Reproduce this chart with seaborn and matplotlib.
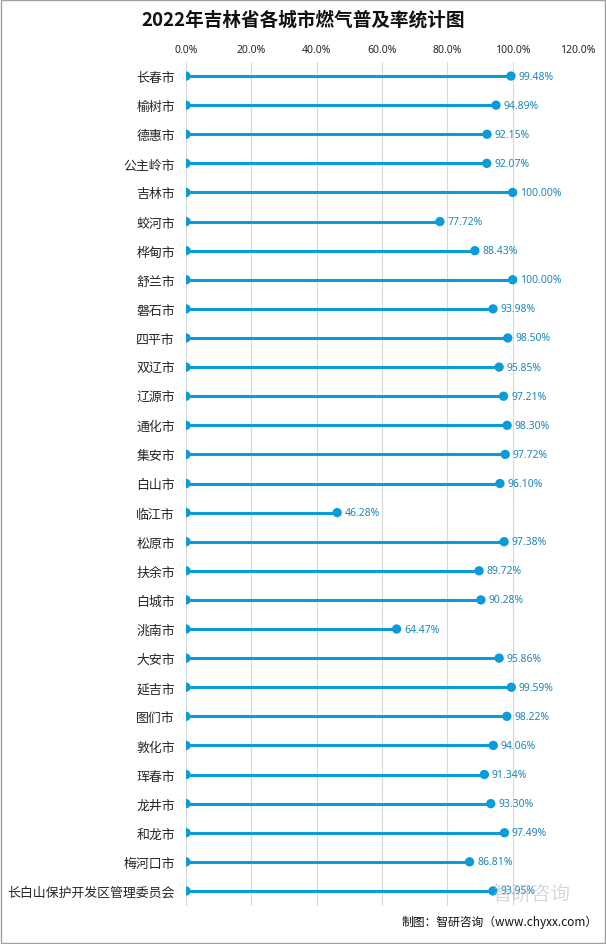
import matplotlib
matplotlib.use("Agg")
import matplotlib.pyplot as plt
import seaborn as sns
import pandas as pd
from matplotlib.patches import Rectangle

cities = ["长春市", "榆树市", "德惠市", "公主岭市", "吉林市", "蛟河市", "桦甸市", "舒兰市", "磐石市",
          "四平市", "双辽市", "辽源市", "通化市", "集安市", "白山市", "临江市", "松原市", "扶余市",
          "白城市", "洮南市", "大安市", "延吉市", "图们市", "敦化市", "珲春市", "龙井市", "和龙市",
          "梅河口市", "长白山保护开发区管理委员会"]
rates = [99.48, 94.89, 92.15, 92.07, 100.00, 77.72, 88.43, 100.00, 93.98,
         98.50, 95.85, 97.21, 98.30, 97.72, 96.10, 46.28, 97.38, 89.72,
         90.28, 64.47, 95.86, 99.59, 98.22, 94.06, 91.34, 93.30, 97.49,
         86.81, 93.95]
xticks = [0, 20, 40, 60, 80, 100, 120]
xtick_labels = ["0.0%", "20.0%", "40.0%", "60.0%", "80.0%", "100.0%", "120.0%"]

df = pd.DataFrame({"city": cities, "rate": rates})
df["pos"] = range(len(df))

sns.set_theme(style="white")
plt.rcParams["font.family"] = ["Noto Sans CJK SC", "DejaVu Sans"]

color = "#0A9BD8"
fig = plt.figure(figsize=(6.06, 9.45), dpi=100)
ax = fig.add_axes([186/606, 1-906.5/945, (578-186)/606, (906.5-62.5)/945])

ax.hlines(df["pos"], 0, df["rate"], color=color, linewidth=2.2, zorder=3)
sns.scatterplot(data=df, x="rate", y="pos", ax=ax, color=color, s=45, edgecolor="none", zorder=4, clip_on=False)
zero = pd.DataFrame({"x": [0]*len(df), "y": df["pos"]})
sns.scatterplot(data=zero, x="x", y="y", ax=ax, color=color, s=45, edgecolor="none", zorder=4)

for p, r in zip(df["pos"], df["rate"]):
    ax.text(r + 2.3, p, f"{r:.2f}%", va="center", ha="left", fontsize=7.5, color="#1F86B8",
            zorder=5, family=["Noto Sans", "DejaVu Sans"])

ax.set_xlim(0, 120)
ax.set_ylim(28.5, -0.5)
ax.set_xticks(xticks)
ax.set_xticklabels(xtick_labels, fontsize=7.5, family=["Noto Sans", "DejaVu Sans"])
ax.xaxis.tick_top()
ax.set_yticks(df["pos"])
ax.set_yticklabels(cities, fontsize=9.3)
ax.tick_params(axis="y", length=0, pad=8)
ax.tick_params(axis="x", length=0, pad=4.5)
ax.grid(axis="x", color="#D9D9D9", linewidth=0.8)
ax.set_axisbelow(True)
for s in ax.spines.values():
    s.set_visible(False)
ax.set_xlabel("")
ax.set_ylabel("")

fig.text(0.5, 1-20/945, "2022年吉林省各城市燃气普及率统计图", ha="center", va="center",
         fontsize=13.4, fontweight="bold", color="#111111")
fig.text(598/606, 1-922/945, "制图：智研咨询（www.chyxx.com）", ha="right", va="center",
         fontsize=8.5, color="#111111")
fig.text(492/606, 1-894/945, "智研咨询", ha="left", va="center", fontsize=14,
         color="#AAB4BE", alpha=0.5, zorder=0)
fig.patches.append(Rectangle((0.001, 0.001), 0.998, 0.998, transform=fig.transFigure,
                             fill=False, edgecolor="#A0A0A0", linewidth=1))
fig.savefig("out.png", dpi=100)
